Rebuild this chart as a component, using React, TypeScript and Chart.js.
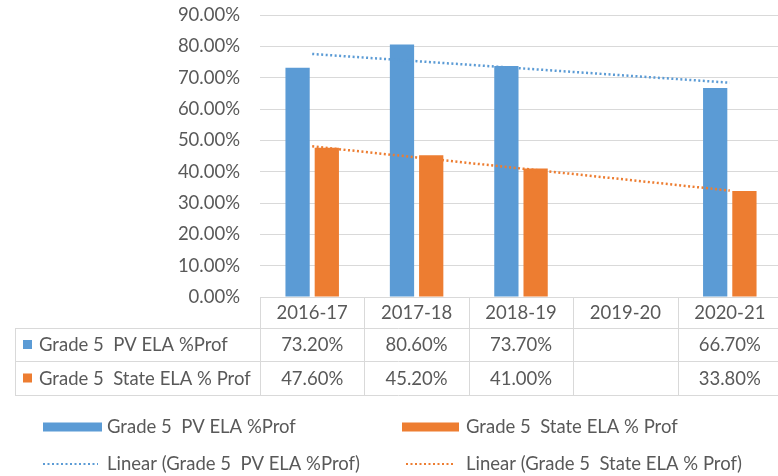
import React, { useEffect, useRef } from "react";
import { Chart, registerables } from "chart.js";

Chart.register(...registerables);

const categories = ["2016-17", "2017-18", "2018-19", "2019-20", "2020-21"];
const pvLabel = "Grade 5  PV ELA %Prof";
const stateLabel = "Grade 5  State ELA % Prof";
const pvValues: (number | null)[] = [73.2, 80.6, 73.7, null, 66.7];
const stateValues: (number | null)[] = [47.6, 45.2, 41.0, null, 33.8];
const yTicks = [0, 10, 20, 30, 40, 50, 60, 70, 80, 90];

const BLUE = "#5b9bd5";
const ORANGE = "#ed7d31";
const TEXT = "#595959";
const GRID = "#d9d9d9";
const FONT = "Lato, 'Open Sans', sans-serif";
const FS = 18.5;

// Linear trend line (least squares over present points), as Excel's "Linear" trendline
function linearTrend(vals: (number | null)[]): number[] {
  const pts = vals.map((v, i) => [i + 1, v] as [number, number | null]).filter((p) => p[1] !== null) as [number, number][];
  const n = pts.length;
  const mx = pts.reduce((s, p) => s + p[0], 0) / n;
  const my = pts.reduce((s, p) => s + p[1], 0) / n;
  let sxy = 0, sxx = 0;
  pts.forEach(([x, y]) => { sxy += (x - mx) * (y - my); sxx += (x - mx) * (x - mx); });
  const b = sxy / sxx;
  const a = my - b * mx;
  return vals.map((_, i) => a + b * (i + 1));
}

const fmt = (v: number | null) => (v === null ? "" : v.toFixed(2) + "%");

const tablePlugin = {
  id: "dataTable",
  afterDraw(chart: any) {
    const ctx = chart.ctx;
    const x = chart.scales.x;
    const area = chart.chartArea;
    const top = area.bottom; // 297
    const r1 = top + 31;
    const r2 = top + 64;
    const r3 = top + 98;
    const leftEdge = 15;
    const right = chart.width;
    const bounds: number[] = [];
    for (let i = 0; i <= categories.length; i++) {
      if (i === 0) bounds.push(area.left);
      else if (i === categories.length) bounds.push(x.getPixelForValue(i - 1) + (x.getPixelForValue(i - 1) - bounds[i - 1]));
      else bounds.push((x.getPixelForValue(i - 1) + x.getPixelForValue(i)) / 2);
    }
    ctx.save();
    ctx.strokeStyle = GRID;
    ctx.lineWidth = 1;
    ctx.beginPath();
    [r1, r2, r3].forEach((y) => {
      ctx.moveTo(leftEdge, Math.round(y) + 0.5);
      ctx.lineTo(right, Math.round(y) + 0.5);
    });
    ctx.moveTo(area.left, Math.round(top) + 0.5);
    ctx.lineTo(right, Math.round(top) + 0.5);
    ctx.moveTo(leftEdge + 0.5, r1);
    ctx.lineTo(leftEdge + 0.5, r3);
    bounds.forEach((bx) => {
      ctx.moveTo(Math.round(bx) + 0.5, top);
      ctx.lineTo(Math.round(bx) + 0.5, r3);
    });
    ctx.stroke();

    ctx.font = `${FS}px ${FONT}`;
    ctx.fillStyle = TEXT;
    ctx.textBaseline = "middle";
    ctx.textAlign = "center";
    categories.forEach((c, i) => {
      const cx = x.getPixelForValue(i);
      ctx.fillText(c, cx, (top + r1) / 2 + 1);
      ctx.fillText(fmt(pvValues[i]), cx, (r1 + r2) / 2 + 1);
      ctx.fillText(fmt(stateValues[i]), cx, (r2 + r3) / 2 + 1);
    });
    ctx.textAlign = "left";
    ctx.fillStyle = BLUE;
    ctx.fillRect(23, (r1 + r2) / 2 - 4.5, 9, 9);
    ctx.fillStyle = ORANGE;
    ctx.fillRect(23, (r2 + r3) / 2 - 4.5, 9, 9);
    ctx.fillStyle = TEXT;
    ctx.fillText(pvLabel, 39, (r1 + r2) / 2 + 1);
    ctx.fillText(stateLabel, 39, (r2 + r3) / 2 + 1);

    // legend
    const ly1 = 427;
    const ly2 = 464;
    ctx.fillStyle = BLUE;
    ctx.fillRect(43, ly1 - 4.5, 59, 9);
    ctx.fillStyle = ORANGE;
    ctx.fillRect(402, ly1 - 4.5, 57, 9);
    ctx.lineWidth = 2;
    ctx.setLineDash([2, 2.5]);
    ctx.strokeStyle = BLUE;
    ctx.beginPath();
    ctx.moveTo(43, ly2);
    ctx.lineTo(98, ly2);
    ctx.stroke();
    ctx.strokeStyle = ORANGE;
    ctx.beginPath();
    ctx.moveTo(406, ly2);
    ctx.lineTo(455, ly2);
    ctx.stroke();
    ctx.setLineDash([]);
    ctx.fillStyle = TEXT;
    ctx.fillText(pvLabel, 107, ly1);
    ctx.fillText(stateLabel, 466, ly1);
    ctx.fillText(`Linear (${pvLabel})`, 107, ly2);
    ctx.fillText(`Linear (${stateLabel})`, 466, ly2);
    ctx.restore();
  },
};

export default function App() {
  const ref = useRef<HTMLCanvasElement | null>(null);
  useEffect(() => {
    document.body.style.margin = "0";
    document.body.style.overflow = "hidden";
    const canvas = ref.current!;
    const chart = new Chart(canvas, {
      type: "bar",
      data: {
        labels: categories,
        datasets: [
          {
            type: "bar",
            label: pvLabel,
            data: pvValues,
            backgroundColor: BLUE,
            categoryPercentage: 0.56,
            barPercentage: 0.83,
            order: 2,
          },
          {
            type: "bar",
            label: stateLabel,
            data: stateValues,
            backgroundColor: ORANGE,
            categoryPercentage: 0.56,
            barPercentage: 0.83,
            order: 2,
          },
          {
            type: "line",
            label: `Linear (${pvLabel})`,
            data: linearTrend(pvValues),
            borderColor: BLUE,
            borderWidth: 2.5,
            borderDash: [2, 2.5],
            pointRadius: 0,
            fill: false,
            order: 1,
          } as any,
          {
            type: "line",
            label: `Linear (${stateLabel})`,
            data: linearTrend(stateValues),
            borderColor: ORANGE,
            borderWidth: 2.5,
            borderDash: [2, 2.5],
            pointRadius: 0,
            fill: false,
            order: 1,
          } as any,
        ],
      },
      options: {
        animation: false,
        responsive: false,
        maintainAspectRatio: false,
        layout: { padding: { top: 0, bottom: 179, left: 0, right: 0 } },
        plugins: { legend: { display: false }, tooltip: { enabled: false } },
        scales: {
          x: { display: false },
          y: {
            min: 0,
            max: 90,
            afterFit: (axis: any) => {
              axis.width = 260;
              axis.paddingTop = 15;
              axis.paddingBottom = 0;
            },
            afterBuildTicks: (axis: any) => { axis.ticks = yTicks.map((v) => ({ value: v })); },
            border: { display: false },
            grid: { color: GRID, lineWidth: 1, drawTicks: false },
            ticks: {
              padding: 20,
              color: TEXT,
              font: { family: FONT, size: FS },
              callback: (v: any) => Number(v).toFixed(2) + "%",
            },
          },
        },
      },
      plugins: [tablePlugin],
    } as any);
    return () => chart.destroy();
  }, []);
  return (
    <div style={{ width: 778, height: 476, overflow: "hidden", position: "relative" }}>
      <canvas ref={ref} width={782} height={476} style={{ display: "block", width: 782, height: 476 }} />
    </div>
  );
}
